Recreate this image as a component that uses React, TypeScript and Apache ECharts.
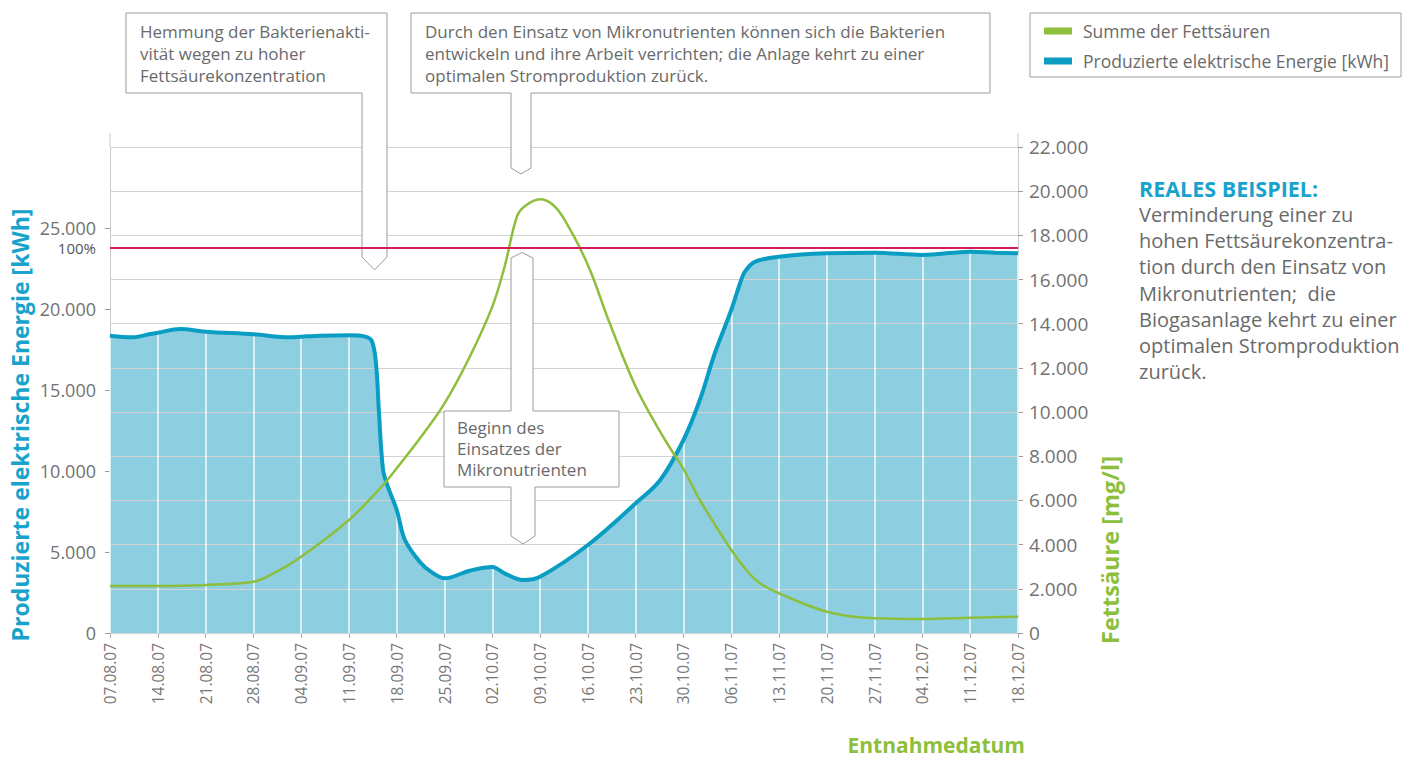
import React, { useEffect, useRef } from "react";
import * as echarts from "echarts";

// x positions are days since 07.08.07 (one tick per week)
const WEEK_LABELS = [
  "07.08.07", "14.08.07", "21.08.07", "28.08.07", "04.09.07", "11.09.07", "18.09.07",
  "25.09.07", "02.10.07", "09.10.07", "16.10.07", "23.10.07", "30.10.07", "06.11.07",
  "13.11.07", "20.11.07", "27.11.07", "04.12.07", "11.12.07", "18.12.07",
];

// Produzierte elektrische Energie [kWh]  (day, value)
const ENERGY_POINTS: [number, number][] = [
  [0, 18353], [3.4, 18254], [5.9, 18457], [7, 18538], [10.3, 18766], [14, 18599],
  [21, 18439], [26.4, 18254], [28, 18291], [30.8, 18353], [35, 18377], [37.4, 18291],
  [38.4, 17982], [39, 16439], [39.4, 13581], [40, 10062], [40.7, 9031], [42, 7593],
  [43.2, 5741], [45.4, 4383], [47, 3784], [49, 3377], [52.7, 3846], [56, 4080],
  [57.8, 3685], [60.5, 3272], [63, 3475], [70, 5432], [77, 8006], [80.6, 9445],
  [84, 11914], [86.4, 14383], [88.6, 17284], [91, 19939], [92.3, 21605], [93, 22303],
  [94.5, 22921], [98, 23229], [105, 23439], [112, 23476], [119, 23334], [126, 23538],
  [129.7, 23476], [133, 23439],
];

// Summe der Fettsäuren [mg/l]  (day, value)
const ACID_POINTS: [number, number][] = [
  [0, 2128], [7, 2128], [14, 2173], [21, 2323], [23.5, 2626], [28, 3454], [35, 5115],
  [40, 6700], [42, 7456], [45.4, 8814], [49, 10398], [52.7, 12508], [56, 14772],
  [57.8, 16583], [59.6, 18846], [60.8, 19330], [63, 19633], [64.9, 19376], [66.6, 18697],
  [70, 16659], [73.2, 14020], [77, 11150], [80.6, 9100], [82.5, 8149], [84, 7424],
  [86.4, 6021], [91, 3757], [93.6, 2703], [95.2, 2250], [98, 1797], [105, 964],
  [112, 665], [119, 634], [126, 693], [133, 738],
];

// 100 % level of electric energy [kWh]
const FULL_LOAD_KWH = 23765;

const FONT = "'Open Sans', Roboto, sans-serif";
const fmt = (v: number) => String(v).replace(/\B(?=(\d{3})+(?!\d))/g, ".");

export default function App() {
  const ref = useRef<HTMLDivElement>(null);

  useEffect(() => {
    if (!ref.current) return;
    const chart = echarts.init(ref.current, undefined, { renderer: "svg" });

    const lastDay = 7 * (WEEK_LABELS.length - 1);
    const weekSegments = WEEK_LABELS.map((_, i) => 7 * i)
      .map((d) => ENERGY_POINTS.find((p) => p[0] === d))
      .filter((p) => !!p)
      .map((p) => [
        { coord: [p![0], 0] },
        { coord: [p![0], p![1]] },
      ]);

    const boxStyle = { fill: "#ffffff", stroke: "#9b9b9b", lineWidth: 1 };
    const txt = (x: number, y: number, text: string, extra: any = {}) => ({
      type: "text",
      x,
      y,
      z: 8,
      silent: true,
      style: {
        text,
        fill: "#6a6a6a",
        fontSize: 17,
        fontFamily: FONT,
        lineHeight: 22,
        align: "left",
        verticalAlign: "top",
        ...extra,
      },
    });

    const smooth = 0.35;

    const option: any = {
      animation: false,
      textStyle: { fontFamily: FONT },
      grid: { left: 110, right: 400, top: 147, bottom: 125, containLabel: false },
      legend: {
        data: ["Summe der Fettsäuren", "Produzierte elektrische Energie [kWh]"],
        orient: "vertical",
        left: 1030,
        top: 13,
        icon: "rect",
        itemWidth: 28,
        itemHeight: 7,
        itemGap: 12,
        selectedMode: false,
        borderColor: "#a0a0a0",
        borderWidth: 1,
        padding: [9, 12, 7, 14],
        textStyle: { color: "#6a6a6a", fontSize: 17.5, fontFamily: FONT, padding: [0, 0, 0, 6] },
      },
      xAxis: {
        type: "value",
        min: 0,
        max: lastDay,
        interval: 7,
        axisLine: { show: true, lineStyle: { color: "#c8c8c8", width: 1 } },
        axisTick: { show: true, length: 5, lineStyle: { color: "#a8a8a8" } },
        axisLabel: {
          rotate: 90,
          color: "#777777",
          fontSize: 15.5,
          fontFamily: FONT,
          margin: 10,
          showMinLabel: true,
          showMaxLabel: true,
          formatter: (v: number) => WEEK_LABELS[Math.round(v / 7)] ?? "",
        },
        splitLine: { show: false },
      },
      yAxis: [
        {
          type: "value",
          position: "left",
          min: 0,
          max: 30000,
          interval: 5000,
          axisLine: { show: true, lineStyle: { color: "#c8c8c8" } },
          axisTick: { show: true, length: 5, lineStyle: { color: "#9a9a9a" } },
          axisLabel: {
            color: "#727272",
            fontSize: 18,
            fontFamily: FONT,
            margin: 14,
            showMaxLabel: false,
            formatter: (v: number) => fmt(v),
          },
          splitLine: { show: false },
        },
        {
          type: "value",
          position: "right",
          min: 0,
          max: 22000,
          interval: 2000,
          z: 3,
          axisLine: { show: true, lineStyle: { color: "#c8c8c8" } },
          axisTick: { show: true, length: 5, lineStyle: { color: "#9a9a9a" } },
          axisLabel: {
            color: "#727272",
            fontSize: 19,
            fontFamily: FONT,
            margin: 11,
            formatter: (v: number) => fmt(v),
          },
          splitLine: { show: true, lineStyle: { color: "#d3d3d3", width: 1 } },
        },
      ],
      series: [
        {
          name: "fill",
          type: "line",
          yAxisIndex: 0,
          data: ENERGY_POINTS,
          smooth,
          symbol: "none",
          silent: true,
          lineStyle: { width: 0 },
          areaStyle: { color: "#8dcfe1", opacity: 1 },
          z: 2,
          markLine: {
            silent: true,
            symbol: "none",
            label: { show: false },
            lineStyle: { color: "#ffffff", width: 1.5, type: "solid", opacity: 0.9 },
            data: weekSegments,
          },
        },
        {
          name: "Produzierte elektrische Energie [kWh]",
          type: "line",
          yAxisIndex: 0,
          data: ENERGY_POINTS,
          smooth,
          symbol: "none",
          lineStyle: { color: "#0a9dc4", width: 4 },
          itemStyle: { color: "#0a9dc4" },
          z: 6,
        },
        {
          name: "Summe der Fettsäuren",
          type: "line",
          yAxisIndex: 1,
          data: ACID_POINTS,
          smooth,
          symbol: "none",
          lineStyle: { color: "#8dbf3c", width: 2.5 },
          itemStyle: { color: "#8dbf3c" },
          z: 7,
        },
        {
          name: "100%",
          type: "line",
          yAxisIndex: 0,
          data: [
            [0, FULL_LOAD_KWH],
            [lastDay, FULL_LOAD_KWH],
          ],
          symbol: "circle",
          symbolSize: 0.1,
          showSymbol: true,
          lineStyle: { color: "#d81b5b", width: 2 },
          itemStyle: { color: "#d81b5b" },
          label: {
            show: true,
            position: "left",
            distance: 14,
            color: "#555555",
            fontSize: 15,
            fontFamily: FONT,
            formatter: (p: any) => (p.dataIndex === 0 ? "100%" : ""),
          },
          z: 9,
        },
      ],
      graphic: [
        // axis line extensions above the plot
        { type: "line", z: 1, shape: { x1: 110, y1: 133, x2: 110, y2: 147 }, style: { stroke: "#c8c8c8", lineWidth: 1 } },
        { type: "line", z: 1, shape: { x1: 1018, y1: 133, x2: 1018, y2: 147 }, style: { stroke: "#c8c8c8", lineWidth: 1 } },
        // callout 1
        {
          type: "polygon",
          z: 8,
          silent: true,
          shape: { points: [[126, 13], [387, 13], [387, 257], [374.5, 270], [362, 257], [362, 93], [126, 93]] },
          style: boxStyle,
        },
        txt(140, 20, "Hemmung der Bakterienakti-\nvität wegen zu hoher\nFettsäurekonzentration"),
        // callout 2
        {
          type: "polygon",
          z: 8,
          silent: true,
          shape: { points: [[411, 13], [990, 13], [990, 93], [531, 93], [531, 168], [521, 174], [511, 168], [511, 93], [411, 93]] },
          style: boxStyle,
        },
        txt(425, 20, "Durch den Einsatz von Mikronutrienten können sich die Bakterien\nentwickeln und ihre Arbeit verrichten; die Anlage kehrt zu einer\noptimalen Stromproduktion zurück."),
        // callout 3
        {
          type: "polygon",
          z: 8,
          silent: true,
          shape: {
            points: [
              [444, 411], [511, 411], [511, 258], [522, 252.5], [533, 258], [533, 411], [619, 411],
              [619, 487], [535, 487], [535, 536], [523, 544], [511, 536], [511, 487], [444, 487],
            ],
          },
          style: boxStyle,
        },
        txt(457, 417, "Beginn des\nEinsatzes der\nMikronutrienten", { lineHeight: 21 }),
        // axis names
        {
          type: "text",
          x: 20,
          y: 425,
          rotation: Math.PI / 2,
          z: 8,
          style: {
            text: "Produzierte elektrische Energie [kWh]",
            fill: "#17a3cc",
            fontSize: 23,
            fontWeight: "bold",
            fontFamily: FONT,
            align: "center",
            verticalAlign: "middle",
          },
        },
        {
          type: "text",
          x: 1110,
          y: 550,
          rotation: Math.PI / 2,
          z: 8,
          style: {
            text: "Fettsäure [mg/l]",
            fill: "#8dbf3c",
            fontSize: 23.5,
            fontWeight: "bold",
            fontFamily: FONT,
            align: "center",
            verticalAlign: "middle",
          },
        },
        {
          type: "text",
          x: 1025,
          y: 745,
          z: 8,
          style: {
            text: "Entnahmedatum",
            fill: "#8dbf3c",
            fontSize: 21,
            fontWeight: "bold",
            fontFamily: FONT,
            align: "right",
            verticalAlign: "middle",
          },
        },
        // side note
        {
          type: "text",
          x: 1139,
          y: 188,
          z: 8,
          style: {
            text: "REALES BEISPIEL:",
            fill: "#17a3cc",
            fontSize: 21.5,
            fontWeight: "bold",
            fontFamily: FONT,
            align: "left",
            verticalAlign: "middle",
          },
        },
        txt(
          1139,
          201,
          "Verminderung einer zu\nhohen Fettsäurekonzentra-\ntion durch den Einsatz von\nMikronutrienten;  die\nBiogasanlage kehrt zu einer\noptimalen Stromproduktion\nzurück.",
          { fontSize: 20, lineHeight: 26.3 }
        ),
      ],
    };

    chart.setOption(option);
    return () => chart.dispose();
  }, []);

  return (
    <div
      ref={ref}
      style={{ position: "fixed", left: 0, top: 0, width: 1418, height: 758, background: "#ffffff" }}
    />
  );
}
